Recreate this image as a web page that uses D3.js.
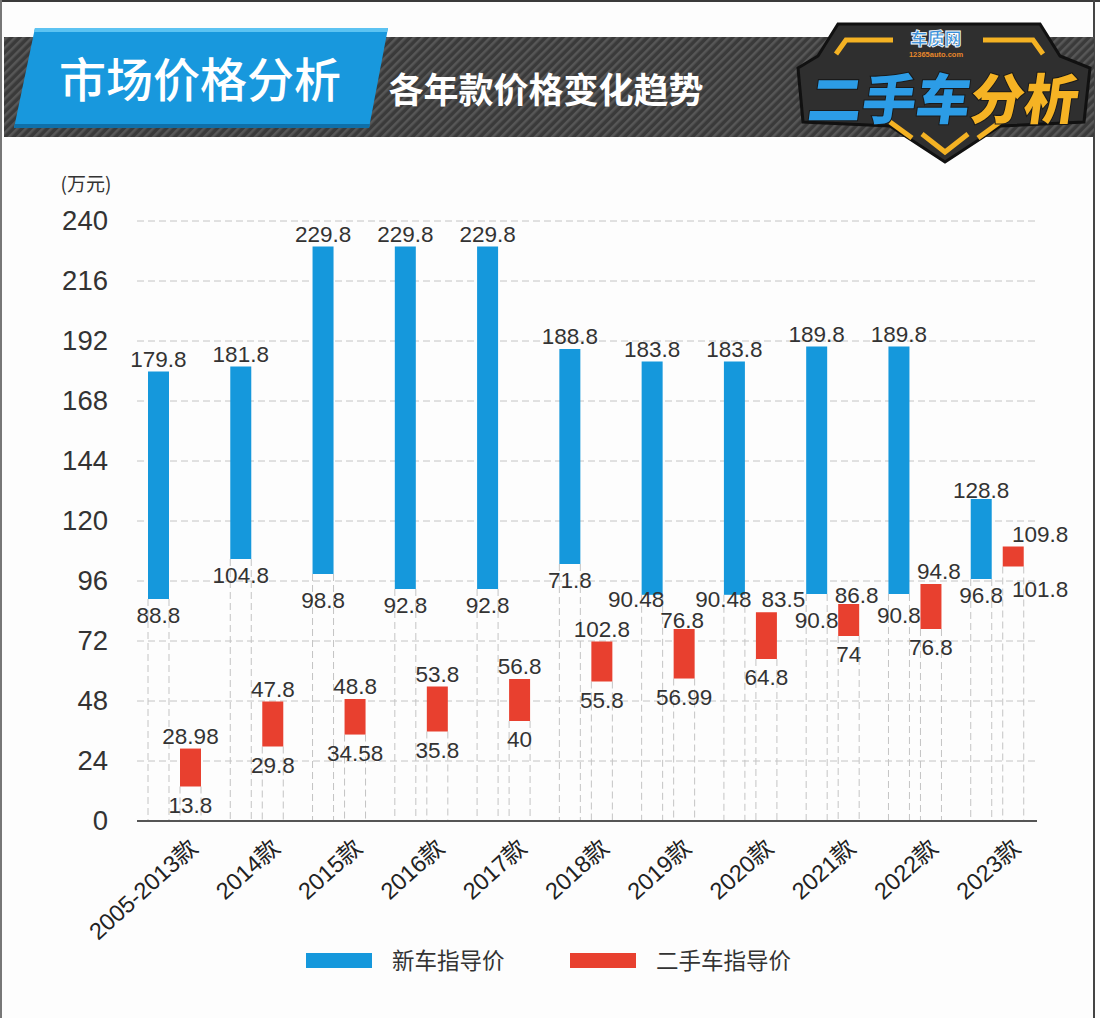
<!DOCTYPE html>
<html><head><meta charset="utf-8">
<script src="https://cdn.jsdelivr.net/npm/d3@7/dist/d3.min.js"></script>
<style>
html,body{margin:0;padding:0;background:#fff;}
svg{display:block;}
text{font-family:"Liberation Sans",Arial,"Noto Sans CJK SC",sans-serif;}
.cjk{font-family:"Noto Sans CJK SC","Liberation Sans",sans-serif;}
</style></head>
<body>
<svg id="chart" width="1100" height="1018"></svg>
<script>
// ---------- data ----------
const categories = ["2005-2013款","2014款","2015款","2016款","2017款","2018款","2019款","2020款","2021款","2022款","2023款"];
const newHigh  = [179.8,181.8,229.8,229.8,229.8,188.8,183.8,183.8,189.8,189.8,128.8];
const newLow   = [88.8,104.8,98.8,92.8,92.8,102.8,90.48,90.48,90.8,90.8,96.8];
const usedHigh = [28.98,47.8,48.8,53.8,56.8,71.8,76.8,83.5,86.8,94.8,109.8];
const usedLow  = [13.8,29.8,34.58,35.8,40,55.8,56.99,64.8,74,76.8,101.8];
// labels as printed on the chart
const newHighLabels  = ["179.8","181.8","229.8","229.8","229.8","188.8","183.8","183.8","189.8","189.8","128.8"];
const newLowLabels   = ["88.8","104.8","98.8","92.8","92.8","71.8","90.48","90.48","90.8","90.8","96.8"];
const usedHighLabels = ["28.98","47.8","48.8","53.8","56.8","102.8","76.8","83.5","86.8","94.8","109.8"];
const usedLowLabels  = ["13.8","29.8","34.58","35.8","40","55.8","56.99","64.8","74","76.8","101.8"];
const yTicks = [0,24,48,72,96,120,144,168,192,216,240];
const seriesNames = ["新车指导价","二手车指导价"];
const unitLabel = "(万元)";
const titleMain = "市场价格分析";
const titleSub = "各年款价格变化趋势";

// ---------- layout (label nudges, px) ----------
const labelNudge = {
  "newLow-2":[0,10], "newLow-6":[-16,-12], "newLow-7":[-11,-12], "newLow-8":[0,10], "newLow-9":[0,5],
  "usedHigh-6":[-2,4], "usedHigh-7":[17,0], "usedHigh-8":[8,4], "usedHigh-9":[8,0],
  "usedHigh-10":[27,0], "usedLow-10":[27,4], "newHigh-10":[0,4]
};

const BLUE = "#1598dc", RED = "#e8402f";
const svg = d3.select("#chart");

// ---------- frame ----------
svg.append("rect").attr("x",0).attr("y",0).attr("width",1100).attr("height",1018).attr("fill","#fdfdfd");
svg.append("line").attr("x1",0).attr("x2",1100).attr("y1",1).attr("y2",1).attr("stroke","#3a3a3a").attr("stroke-width",2);
svg.append("line").attr("x1",1).attr("x2",1).attr("y1",0).attr("y2",1018).attr("stroke","#777").attr("stroke-width",2);
svg.append("line").attr("x1",1094).attr("x2",1094).attr("y1",0).attr("y2",1018).attr("stroke","#444").attr("stroke-width",2);

// ---------- header ----------
const defs = svg.append("defs");
const pat = defs.append("pattern").attr("id","stripes").attr("patternUnits","userSpaceOnUse")
  .attr("width",6).attr("height",6).attr("patternTransform","rotate(45)");
pat.append("rect").attr("width",6).attr("height",6).attr("fill","#3a3a3a");
pat.append("rect").attr("width",2.5).attr("height",6).attr("fill","#575757");
svg.append("rect").attr("x",4).attr("y",37).attr("width",1090).attr("height",100).attr("fill","url(#stripes)");
svg.append("polygon").attr("points","35,28 388,28 369,128 14,128").attr("fill","#1898dd");
svg.append("polygon").attr("points","35,28 388,28 387,32 34,32").attr("fill","#5cc3f2");
svg.append("polygon").attr("points","15,124 370,124 369,128 14,128").attr("fill","#0f6fa8");
svg.append("text").attr("class","cjk").attr("x",200).attr("y",97).attr("text-anchor","middle")
  .attr("font-size",47).attr("font-weight",500).attr("fill","#fff").text(titleMain);
svg.append("text").attr("class","cjk").attr("x",546).attr("y",103).attr("text-anchor","middle")
  .attr("font-size",35).attr("font-weight",700).attr("fill","#fff").text(titleSub);

// logo
const logo = svg.append("g");
logo.append("polygon").attr("points","838,24 1040,24 1060,56 1090,68 1084,122 1000,126 945,162 890,126 803,122 798,68 818,56")
  .attr("fill","#2f2f2f").attr("stroke","#111").attr("stroke-width",3);
logo.append("polyline").attr("points","893,40 846,40 836,54").attr("fill","none").attr("stroke","#f4b223").attr("stroke-width",5);
logo.append("polyline").attr("points","983,40 1033,40 1043,54").attr("fill","none").attr("stroke","#f4b223").attr("stroke-width",5);
logo.append("polyline").attr("points","890,122 912,138").attr("fill","none").attr("stroke","#f4b223").attr("stroke-width",5);
logo.append("polyline").attr("points","1000,122 978,138").attr("fill","none").attr("stroke","#f4b223").attr("stroke-width",5);
logo.append("polyline").attr("points","922,134 945,152 968,134").attr("fill","none").attr("stroke","#f4b223").attr("stroke-width",5);
logo.append("text").attr("class","cjk").attr("x",936).attr("y",45).attr("text-anchor","middle").attr("font-size",17)
  .attr("font-weight",900).attr("fill","#3b8fd9").attr("stroke","#fff").attr("stroke-width",0.8).text("车质网");
logo.append("text").attr("x",936).attr("y",57).attr("text-anchor","middle").attr("font-size",7.5)
  .attr("font-weight",700).attr("fill","#e8882b").text("12365auto.com");
const big = logo.append("text").attr("class","cjk").attr("transform","translate(806,119) skewX(-8)")
  .attr("font-size",54).attr("font-weight",900).attr("stroke","#1a1a1a").attr("stroke-width",2).attr("paint-order","stroke");
big.append("tspan").attr("fill","#2c9ce6").text("二手车");
big.append("tspan").attr("fill","#f5b324").text("分析");

// ---------- chart ----------
const y = d3.scaleLinear().domain([0,240]).range([821,221]);
const x0 = d3.scaleBand().domain(categories).range([134,1039]);
const x1 = d3.scaleBand().domain(["new","used"]).range([14,67]).paddingInner(0.344);
const gridX0 = 137, gridX1 = 1037;

// horizontal gridlines
svg.append("g").selectAll("line").data(yTicks.filter(d=>d>0)).join("line")
  .attr("x1",gridX0).attr("x2",gridX1).attr("y1",d=>y(d)).attr("y2",d=>y(d))
  .attr("stroke","#c4c4c4").attr("stroke-width",1).attr("stroke-dasharray","7,4");

// data rows
const rows = categories.map((c,i)=>({c,i,
  nh:newHigh[i], nl:newLow[i], uh:usedHigh[i], ul:usedLow[i]}));

// vertical dashed lines from bar bottoms to axis
const vlines = [];
rows.forEach(r=>{
  const bx = x0(r.c)+x1("new"), ux = x0(r.c)+x1("used"), bw = x1.bandwidth();
  vlines.push({x:bx, y:y(r.nl)}, {x:bx+bw, y:y(r.nl)}, {x:ux, y:y(r.ul)}, {x:ux+bw, y:y(r.ul)});
});
svg.append("g").selectAll("line").data(vlines).join("line")
  .attr("x1",d=>d.x).attr("x2",d=>d.x).attr("y1",d=>d.y).attr("y2",y(0))
  .attr("stroke","#c4c4c4").attr("stroke-width",1).attr("stroke-dasharray","7,4");

// bars
svg.append("g").selectAll("rect").data(rows).join("rect")
  .attr("x",d=>x0(d.c)+x1("new")).attr("width",x1.bandwidth())
  .attr("y",d=>y(d.nh)).attr("height",d=>y(d.nl)-y(d.nh)).attr("fill",BLUE);
svg.append("g").selectAll("rect").data(rows).join("rect")
  .attr("x",d=>x0(d.c)+x1("used")).attr("width",x1.bandwidth())
  .attr("y",d=>y(d.uh)).attr("height",d=>y(d.ul)-y(d.uh)).attr("fill",RED);

// value labels
const labels = [];
rows.forEach(r=>{
  const bc = x0(r.c)+x1("new")+x1.bandwidth()/2, uc = x0(r.c)+x1("used")+x1.bandwidth()/2;
  labels.push({k:"newHigh-"+r.i, x:bc, y:y(r.nh)-5, t:newHighLabels[r.i]});
  labels.push({k:"newLow-"+r.i, x:bc, y:y(r.nl)+24, t:newLowLabels[r.i]});
  labels.push({k:"usedHigh-"+r.i, x:uc, y:y(r.uh)-5, t:usedHighLabels[r.i]});
  labels.push({k:"usedLow-"+r.i, x:uc, y:y(r.ul)+26, t:usedLowLabels[r.i]});
});
svg.append("g").selectAll("text").data(labels).join("text")
  .attr("x",d=>d.x+(labelNudge[d.k]?labelNudge[d.k][0]:0))
  .attr("y",d=>d.y+(labelNudge[d.k]?labelNudge[d.k][1]:0))
  .attr("text-anchor","middle").attr("font-size",22.5).attr("fill","#333").text(d=>d.t);

// x axis line
svg.append("line").attr("x1",gridX0).attr("x2",gridX1).attr("y1",y(0)).attr("y2",y(0))
  .attr("stroke","#555").attr("stroke-width",2);

// y axis
const yAxis = svg.append("g").attr("transform","translate(118,0)")
  .call(d3.axisLeft(y).tickValues(yTicks).tickSize(0).tickPadding(10).tickFormat(d3.format("d")));
yAxis.select(".domain").remove();
yAxis.selectAll("text").attr("font-size",27.5).attr("fill","#333")
  .style("font-family",'"Liberation Sans",Arial,sans-serif');

svg.append("text").attr("class","cjk").attr("x",86).attr("y",191).attr("text-anchor","middle")
  .attr("font-size",19).attr("fill","#333").text(unitLabel);

// x axis
const xAxis = svg.append("g").attr("transform",`translate(0,${y(0)})`)
  .call(d3.axisBottom(x0).tickSize(0));
xAxis.select(".domain").remove();
xAxis.selectAll("text").attr("y",0).attr("dy",0).attr("text-anchor","end")
  .attr("transform","translate(24,29) rotate(-42)")
  .attr("font-size",23.5).attr("fill","#222")
  .style("font-family",'"Liberation Sans",Arial,"Noto Sans CJK SC",sans-serif');

// legend
const legend = svg.append("g");
const legItems = [{name:seriesNames[0], color:BLUE, x:306},{name:seriesNames[1], color:RED, x:570}];
legItems.forEach(it=>{
  legend.append("rect").attr("x",it.x).attr("y",953).attr("width",66).attr("height",15).attr("fill",it.color);
  legend.append("text").attr("class","cjk").attr("x",it.x+86).attr("y",969)
    .attr("font-size",22.5).attr("fill","#333").text(it.name);
});
</script>
</body></html>
